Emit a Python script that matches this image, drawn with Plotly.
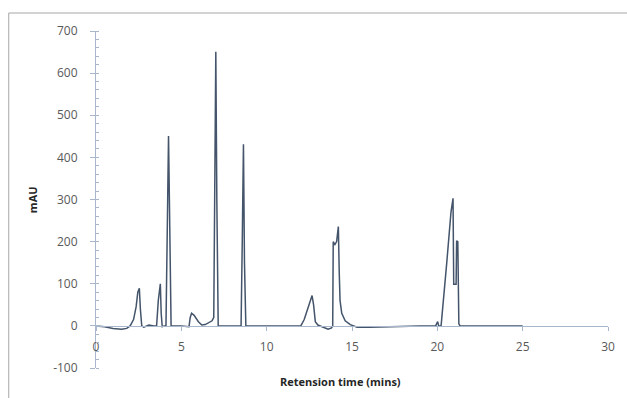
import plotly.graph_objects as go

# Retention time (mins) and detector response (mAU)
time_min = [0, 0.5, 1.0, 1.5, 1.8, 2.0, 2.2, 2.35, 2.45, 2.54, 2.6, 2.68, 2.8, 3.1, 3.4, 3.55,
            3.65, 3.72, 3.77, 3.82, 3.88, 4.0, 4.1, 4.2, 4.25, 4.3, 4.4, 4.6, 5.0, 5.45, 5.52,
            5.6, 5.75, 6.0, 6.2, 6.4, 6.6, 6.8, 6.9, 6.96, 7.02, 7.08, 7.16, 7.4, 8.0, 8.5,
            8.57, 8.64, 8.7, 8.78, 9.2, 10, 11, 12.0, 12.2, 12.4, 12.55, 12.66, 12.75, 12.85,
            13.0, 13.3, 13.6, 13.8, 13.87, 13.9, 14.0, 14.1, 14.2, 14.25, 14.3, 14.4, 14.6,
            14.9, 15.3, 16, 17, 18, 19, 19.9, 20.02, 20.08, 20.22, 20.55, 20.8, 20.92, 20.96,
            21.1, 21.13, 21.2, 21.26, 21.33, 22, 23, 24, 25]
mau = [0, -2, -6, -8, -6, 0, 15, 45, 80, 89, 40, 0, -3, 2, 0, 0,
       60, 95, 100, 30, -2, 0, 0, 300, 451, 300, 0, 0, 0, -2, 20,
       30, 25, 10, 2, 3, 8, 12, 20, 400, 651, 300, 0, 0, 0, 0,
       200, 431, 150, 0, 0, 0, 0, 0, 15, 40, 60, 72, 50, 10,
       2, -3, -8, -5, 0, 200, 193, 200, 236, 130, 60, 30, 12,
       3, -3, -3, -2, 0, 0, 0, 10, 0, 0, 149, 270, 303, 99,
       99, 202, 200, 5, 0, 0, 0, 0, 0]

x_ticks = [0, 5, 10, 15, 20, 25, 30]
y_ticks = [-100, 0, 100, 200, 300, 400, 500, 600, 700]

axis_col = "#A9B7CC"
label_col = "#595959"
font_fam = "Open Sans, Liberation Sans, sans-serif"

fig = go.Figure()
fig.add_trace(go.Scatter(x=time_min, y=mau, mode="lines",
                         line=dict(color="#44546A", width=1.5),
                         showlegend=False, hoverinfo="skip"))

fig.update_layout(
    width=627, height=398,
    margin=dict(l=96, r=17, t=31, b=30),
    paper_bgcolor="white", plot_bgcolor="white",
    font=dict(family=font_fam, color=label_col, size=12),
    xaxis=dict(range=[0, 30], tickvals=x_ticks, ticktext=[str(v) for v in x_ticks],
               showgrid=False, zeroline=False, showline=True, linecolor=axis_col, linewidth=1,
               ticks="outside", ticklen=4, tickcolor=axis_col, anchor="free", position=0.125,
               tickfont=dict(size=12, color=label_col), ticklabelstandoff=6),
    yaxis=dict(range=[-100, 700], tickvals=y_ticks, ticktext=[str(v) for v in y_ticks],
               showgrid=False, zeroline=False, showline=True, linecolor=axis_col, linewidth=1,
               ticks="outside", ticklen=5, tickcolor=axis_col,
               minor=dict(dtick=20, ticks="inside", ticklen=3, tickcolor=axis_col, showgrid=False),
               tickfont=dict(size=12, color=label_col), ticklabelstandoff=10),
    shapes=[dict(type="rect", xref="paper", yref="paper", x0=-0.1704, x1=1.2, y0=-0.3, y1=1.0534,
                 line=dict(color="#A6A6A6", width=1), fillcolor="rgba(0,0,0,0)", layer="below")],
    annotations=[
        dict(text="<b>mAU</b>", xref="paper", yref="paper", x=-0.1237, y=0.5, textangle=-90,
             showarrow=False, xanchor="center", yanchor="middle",
             font=dict(size=11, color="#262626", family=font_fam)),
        dict(text="<b>Retension time (mins)</b>", xref="paper", yref="paper", x=0.478, y=-0.0386,
             showarrow=False, xanchor="center", yanchor="middle",
             font=dict(size=11, color="#262626", family=font_fam)),
    ],
)

fig.write_html("out.html")
